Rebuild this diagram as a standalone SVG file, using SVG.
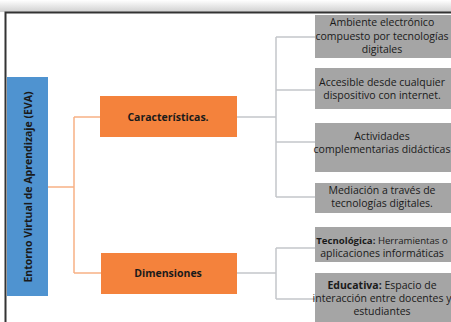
<svg xmlns="http://www.w3.org/2000/svg" width="451" height="322" viewBox="0 0 451 322">
<defs>
<linearGradient id="sh" x1="0" y1="0" x2="0" y2="1">
<stop offset="0" stop-color="#ffffff"/>
<stop offset="1" stop-color="#d0d0d0"/>
</linearGradient>
<style>
.o{fill:#f4823c}
.g{fill:#a5a5a5}
.t{font-family:"Open Sans","Liberation Sans",sans-serif;font-size:10.5px;fill:#1a1a1a;text-anchor:middle}
.b{font-weight:bold}
.ol{stroke:#f7b185;stroke-width:1.5;fill:none}
.gl{stroke:#c4c6ca;stroke-width:1.5;fill:none}
</style>
</defs>
<rect x="0" y="0" width="451" height="322" fill="#fff"/>
<rect x="0" y="0" width="451" height="12" fill="url(#sh)"/>
<path d="M5.5 322V12.5H451" stroke="#333" stroke-width="2" fill="none"/>
<g id="connectors">
<path class="ol" d="M48 187H74M74 117V273M74 117H100M74 273H101"/>
<path class="gl" d="M237 117H276M276 37V197M276 37H315M276 90H315M276 142H315M276 197H315"/>
<path class="gl" d="M237 273H276M276 248V299M276 248H315M276 299H315"/>
</g>
<g id="eva">
<rect x="7" y="77" width="41" height="219" fill="#4f93d0"/>
<text class="t b" transform="translate(31.5 187) rotate(-90)">Entorno Virtual de Aprendizaje (EVA)</text>
</g>
<g id="caracteristicas">
<rect class="o" x="100" y="96" width="137" height="41"/>
<text class="t b" x="168" y="121">Características.</text>
</g>
<g id="dimensiones">
<rect class="o" x="101" y="253" width="136" height="41"/>
<text class="t b" x="168" y="277">Dimensiones</text>
</g>
<g id="c1">
<rect class="g" x="315" y="15" width="136" height="43"/>
<text class="t" x="382" y="26">Ambiente electrónico</text>
<text class="t" x="382" y="40">compuesto por tecnologías</text>
<text class="t" x="382" y="53">digitales</text>
</g>
<g id="c2">
<rect class="g" x="315" y="68" width="136" height="41"/>
<text class="t" x="382" y="86">Accesible desde cualquier</text>
<text class="t" x="382" y="99">dispositivo con internet.</text>
</g>
<g id="c3">
<rect class="g" x="315" y="123" width="136" height="49"/>
<text class="t" x="382" y="140">Actividades</text>
<text class="t" x="382" y="153">complementarias didácticas</text>
</g>
<g id="c4">
<rect class="g" x="315" y="183" width="136" height="30"/>
<text class="t" x="382" y="194">Mediación a través de</text>
<text class="t" x="382" y="207">tecnologías digitales.</text>
</g>
<g id="d1">
<rect class="g" x="315" y="227" width="136" height="35"/>
<text class="t" x="382" y="244" style="font-size:9.6px"><tspan class="b">Tecnológica:</tspan> Herramientas o</text>
<text class="t" x="382" y="257">aplicaciones informáticas</text>
</g>
<g id="d2">
<rect class="g" x="315" y="273" width="136" height="49"/>
<text class="t" x="382" y="289"><tspan class="b">Educativa:</tspan> Espacio de</text>
<text class="t" x="382" y="302">interacción entre docentes y</text>
<text class="t" x="382" y="315">estudiantes</text>
</g>
</svg>
